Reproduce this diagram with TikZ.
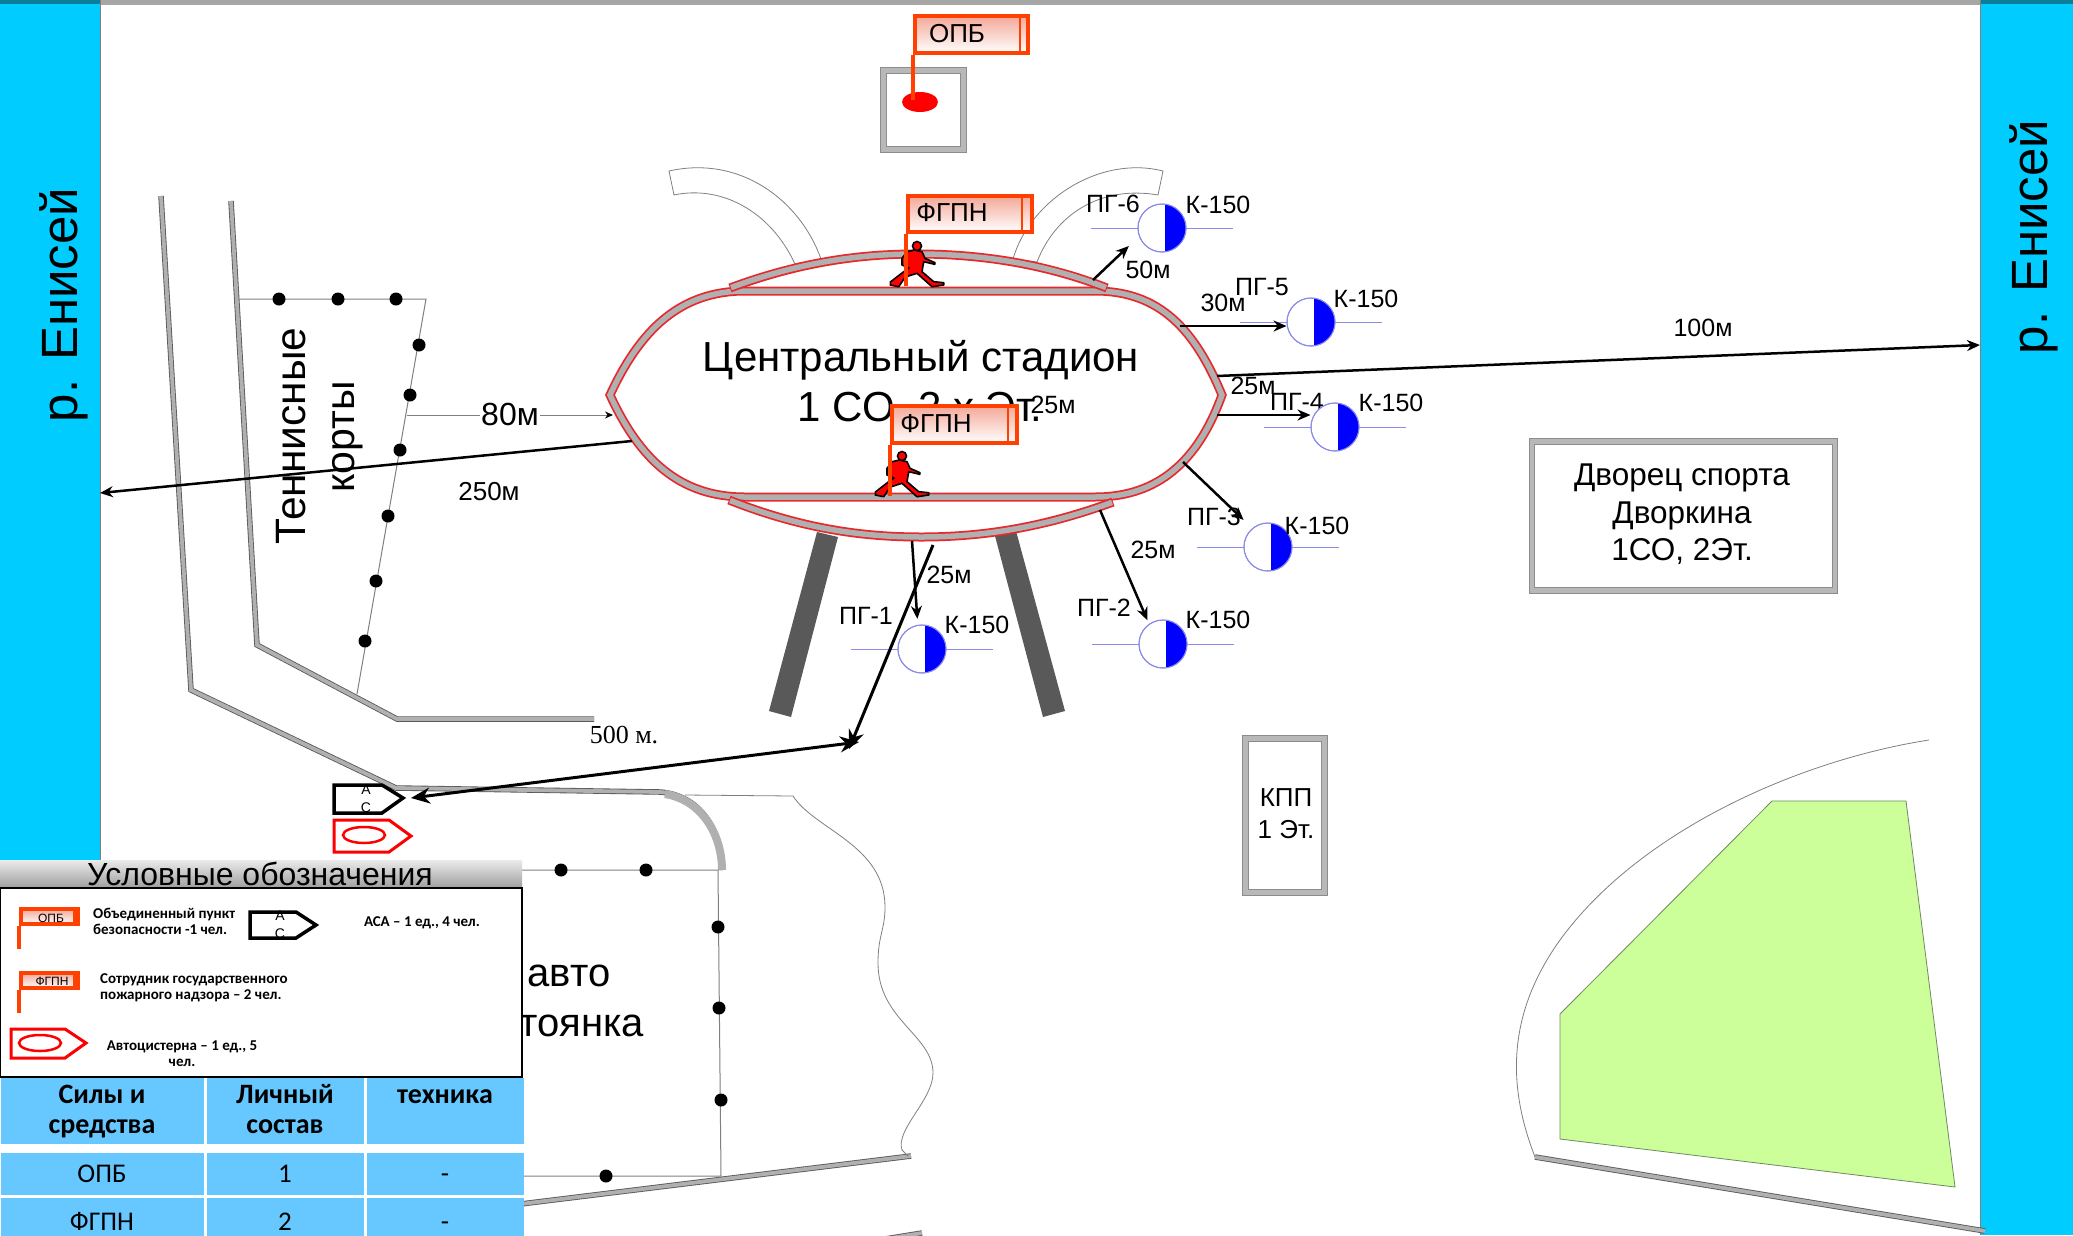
\documentclass[tikz,border=0pt]{standalone}
\usepackage{fontspec}
\setmainfont{Liberation Sans}
\newfontfamily\calfont{Carlito}
\newfontfamily\timesfont{Liberation Serif}
\usetikzlibrary{arrows.meta,shapes.geometric}
\newcommand{\fs}[1]{\fontsize{#1}{#1}\selectfont}
\definecolor{river}{HTML}{00CCFF}
\definecolor{tablecell}{HTML}{66C8FF}
\definecolor{flagred}{HTML}{FF4000}
\definecolor{flagpink}{HTML}{F4A898}
\definecolor{wallred}{HTML}{E8282C}
\definecolor{wallgray}{HTML}{B0B0B0}
\definecolor{framegray}{HTML}{A6A6A6}
\definecolor{frameedge}{HTML}{8C8C8C}
\definecolor{hydline}{HTML}{8C8CE8}
\definecolor{lawn}{HTML}{CCFF99}
\definecolor{lawnedge}{HTML}{6F8A60}
\definecolor{wallgrey}{HTML}{595959}
\definecolor{standgray}{HTML}{595959}
\definecolor{riverdark}{HTML}{0A7E98}
\tikzset{
  lbl/.style={inner sep=0pt,font=\fs{25}},
  arr/.style={black,line width=2.5pt,-{Stealth[length=13pt,width=11pt]}},
  bigarr/.style={black,line width=3pt,-{Stealth[length=19pt,width=16pt]}},
  thinline/.style={draw=gray,line width=1pt},
  dotmark/.style={circle,fill=black,inner sep=0pt,minimum size=13pt},
  frame/.style={draw=frameedge,line width=1pt,double=framegray!80,double distance=4.5pt,fill=white},
  flagbox/.style={draw=flagred,line width=4pt,top color=flagpink,bottom color=white,inner sep=0pt},
  flagpole/.style={draw=flagred,line width=4pt},
  flagdiv/.style={draw=flagred,line width=2.5pt},
  smallflag/.style={draw=flagred,line width=4pt,top color=flagpink,bottom color=white,inner sep=0pt},
  hydnode/.style={circle,draw=hydline,line width=1pt,fill=white,minimum size=48pt,inner sep=0pt},
  hydbar/.style={draw=hydline,line width=1pt},
  cell/.style={fill=tablecell,inner sep=0pt},
  tabhead/.style={inner sep=0pt,anchor=base,font=\calfont\bfseries\fs{28}},
  tabrow/.style={inner sep=0pt,anchor=base,font=\calfont\fs{27}},
  acpent/.style={draw=black,line width=3.5pt,fill=white},
  tankpent/.style={draw=red,line width=3pt,fill=white},
  tankell/.style={draw=red,line width=2.5pt},
  gate/.style={draw=gray,line width=0.8pt,fill=white},
  legendtxt/.style={inner sep=0pt,align=left,font=\calfont\bfseries\fontsize{15}{16}\selectfont},
  walker/.pic={
    \filldraw[fill=red,draw=black,line width=1.6pt,line join=round]
      (-2.3,4) -- (5,5.7) -- (8,12.3) -- (18,16.7) -- (17.7,18.3) -- (6.7,15.7) -- (5,25.7)
      -- (16.7,35.7) -- (26.7,36.7) -- (26.7,39) -- (15,40.7) -- (0,27.3) -- (-11.7,31)
      -- (-18.3,40.7) -- (-26.7,39) -- (-26.7,36) -- (-13.3,25.7) -- (-8,22) -- (-15,19)
      -- (-15,12.3) -- (-10,5.7) -- cycle;
    \filldraw[fill=red,draw=black,line width=1.6pt] (0,0) circle (4.5pt);
  }
}
\newcommand{\hydrant}[3]{%
  \draw[hydbar] (#2-71,#3) -- (#2+71,#3);
  \node[hydnode] (#1) at (#2,#3) {};
  \begin{scope}
    \clip (#2+3,#3-25) rectangle (#2+26,#3+25);
    \fill[blue] (#2,#3) circle (24pt);
  \end{scope}
  \draw[hydline,line width=1pt] (#2,#3) circle (24pt);
}
\newcommand{\roadline}[1]{%
  \draw[draw=wallgrey,line width=5.5pt,miter limit=3] #1;
  \draw[draw=wallgray,line width=3.8pt,miter limit=3] #1;
}
\begin{document}
\begin{tikzpicture}[x=1pt,y=-1pt]
\useasboundingbox (0,0) rectangle (2073,1235);
\clip (0,0) rectangle (2073,1235);
\fill[white] (0,0) rectangle (2073,1235);
% top bar and rivers
\fill[framegray] (0,0) rectangle (2073,5);
\fill[river] (0,0) rectangle (100,870);
\fill[river] (1980,0) rectangle (2073,1235);
\fill[riverdark] (0,0) rectangle (100,4);
\fill[riverdark] (1980,0) rectangle (2073,4);
\draw[gray,line width=0.6pt] (100,0) -- (100,870);
\draw[gray,line width=0.6pt] (1980,0) -- (1980,1235);
\node[rotate=90,anchor=base,inner sep=0pt,font=\fs{51}] (riverL) at (77,305) {р. Енисей};
\node[rotate=90,anchor=base,inner sep=0pt,font=\fs{51}] (riverR) at (2047,237) {р. Енисей};
% roads
\roadline{(161,196) -- (191,690) -- (396,788) -- (660,792) .. controls (700,795) and (722,830) .. (722,870)}
\draw[draw=wallgray,line width=8pt] (665,794) .. controls (702,800) and (722,835) .. (722,870);
\roadline{(231,201) -- (257,645) -- (397,719) -- (594,719)}
\roadline{(480,1209) -- (911,1156)}
\roadline{(1535,1157) -- (1985,1231)}
\roadline{(922,1233) -- (860,1243)}
% tennis court fence
\draw[thinline] (239,299) -- (426,299) -- (357,694);
\foreach \px/\py in {279/299,338/299,396/299,419/345,410/395,400/450,388/516,376/581,365/641}
  \node[dotmark] (td\px) at (\px,\py) {};
\node[rotate=90,anchor=base,inner sep=0pt,font=\fs{42.5}] (tennisA) at (305,436) {Теннисные};
\node[rotate=90,anchor=base,inner sep=0pt,font=\fs{41}] (tennisB) at (354,437) {корты};
% parking fence
\draw[thinline] (500,870) -- (718,870) -- (721,1176) -- (500,1176);
\foreach \px/\py in {561/870,646/870,718/927,719/1008,721/1100,606/1176}
  \node[dotmark] (pd\px) at (\px,\py) {};
\node[anchor=base,inner sep=0pt,font=\fs{40}] (parkA) at (569,986) {авто};
\node[anchor=base east,inner sep=0pt,font=\fs{40}] (parkB) at (644,1036) {стоянка};
% wavy boundary
\draw[thinline,line width=0.8pt] (685,795) -- (793,796) .. controls (815,830) and (885,845) .. (885,907) .. controls (885,930) and (878,935) .. (878,963) .. controls (878,1020) and (933,1035) .. (933,1073) .. controls (933,1100) and (895,1130) .. (902,1150) -- (908,1156);
% green area
\draw[thinline,line width=0.8pt] (1929,740) .. controls (1800,760) and (1640,830) .. (1560,940) .. controls (1510,1010) and (1505,1080) .. (1535,1157);
\filldraw[fill=lawn,draw=lawnedge,line width=0.8pt] (1772,801) -- (1906,801) -- (1955,1187) -- (1560,1139) -- (1560,1014) -- cycle;
% gates
\filldraw[gate] (669,171) .. controls (740,155) and (800,200) .. (821,259) -- (795,264) .. controls (770,210) and (720,185) .. (674,195) -- cycle;
\filldraw[gate] (1163,171) .. controls (1100,155) and (1030,200) .. (1013,259) -- (1037,262) .. controls (1055,215) and (1100,185) .. (1158,195) -- cycle;
% stands
\fill[standgray] (817,532) -- (838,537) -- (791,717) -- (769,711) -- cycle;
\fill[standgray] (995,536) -- (1016,531) -- (1065,711) -- (1043,717) -- cycle;
% stadium
\draw[draw=wallred,line width=9pt,fill=white,miter limit=4] (610,395) .. controls (640,330) and (680,291) .. (745,291) -- (1095,291) .. controls (1160,291) and (1195,330) .. (1222,395) .. controls (1195,470) and (1150,497) .. (1095,497) -- (745,497) .. controls (680,497) and (640,460) .. (610,395) -- cycle;
\draw[draw=wallgray,line width=5.5pt,miter limit=4] (610,395) .. controls (640,330) and (680,291) .. (745,291) -- (1095,291) .. controls (1160,291) and (1195,330) .. (1222,395) .. controls (1195,470) and (1150,497) .. (1095,497) -- (745,497) .. controls (680,497) and (640,460) .. (610,395) -- cycle;
\draw[draw=wallred,line width=9pt] (730,288) .. controls (800,262) and (860,254) .. (917,254) .. controls (975,254) and (1040,262) .. (1107,288);
\draw[draw=wallgray,line width=5.5pt] (731,287.6) .. controls (800,262) and (860,254) .. (917,254) .. controls (975,254) and (1040,262) .. (1106,287.6);
\draw[draw=wallred,line width=9pt] (729,500) .. controls (800,528) and (860,537) .. (921,537) .. controls (990,537) and (1050,525) .. (1113,502);
\draw[draw=wallgray,line width=5.5pt] (730,500.4) .. controls (800,528) and (860,537) .. (921,537) .. controls (990,537) and (1050,525) .. (1112,502.4);
\node[anchor=base,inner sep=0pt,font=\fs{42}] (stadA) at (921,371) {Центральный стадион};
\node[anchor=base,inner sep=0pt,font=\fs{42}] (stadB) at (920,421) {1 СО, 2 х Эт.};
% top building
\node[frame,minimum width=80pt,minimum height=79pt,inner sep=0pt] (post) at (923.5,110) {};
\fill[red] (920,102) ellipse (18pt and 10pt);
% buildings
\node[frame,minimum width=303pt,minimum height=149pt,inner sep=0pt] (palace) at (1683.5,516) {};
\node[anchor=base,inner sep=0pt,font=\fs{31.5}] (palA) at (1682,485) {Дворец спорта};
\node[anchor=base,inner sep=0pt,font=\fs{31.5}] (palB) at (1682,523) {Дворкина};
\node[anchor=base,inner sep=0pt,font=\fs{31.5}] (palC) at (1682,560) {1СО, 2Эт.};
\node[frame,minimum width=79pt,minimum height=154pt,inner sep=0pt] (kpp) at (1285,815.5) {};
\node[anchor=base,inner sep=0pt,font=\fs{26}] (kppA) at (1286,806) {КПП};
\node[anchor=base,inner sep=0pt,font=\fs{26}] (kppB) at (1286,838) {1 Эт.};
% hydrant labels beneath
\node[lbl] (l6) at (1113,204) {ПГ-6};
\node[lbl] (l5) at (1262,287) {ПГ-5};
\node[lbl] (l4) at (1297,402) {ПГ-4};
\node[lbl] (l3) at (1214,517) {ПГ-3};
\node[lbl] (l2) at (1104,608) {ПГ-2};
\node[lbl] (l1) at (866,616) {ПГ-1};
\hydrant{pg6}{1162}{228}
\hydrant{pg5}{1311}{322}
\hydrant{pg4}{1335}{427}
\hydrant{pg3}{1268}{547}
\hydrant{pg2}{1163}{644}
\hydrant{pg1}{922}{649}
\node[lbl] (k6) at (1218,205) {К-150};
\node[lbl] (k5) at (1366,299) {К-150};
\node[lbl] (k4) at (1391,403) {К-150};
\node[lbl] (k3) at (1317,526) {К-150};
\node[lbl] (k2) at (1218,620) {К-150};
\node[lbl] (k1) at (977,625) {К-150};
% distance labels
\node[lbl] (d50) at (1148,270) {50м};
\node[lbl] (d30) at (1223,303) {30м};
\node[lbl] (d25a) at (1253,386) {25м};
\node[lbl] (d25b) at (1053,405) {25м};
\node[lbl] (d25c) at (1153,550) {25м};
\node[lbl] (d25d) at (949,575) {25м};
\node[lbl] (d100) at (1703,328) {100м};
\node[lbl,font=\fs{26}] (d250) at (489,492) {250м};
\node[lbl,font=\timesfont\fs{26}] (d500) at (624,735) {500 м.};
% connectors
\coordinate (s6) at (1093,280);
\coordinate (s5) at (1180,326);
\coordinate (s4) at (1217,415);
\coordinate (s3) at (1183,462);
\coordinate (s2) at (1100,510);
\coordinate (s1) at (912,541);
\draw[arr,shorten >=14pt] (s6) -- (pg6.200);
\draw[arr] (s5) -- (s5 -| pg5.west);
\draw[arr] (s4) -- (s4 -| pg4.west);
\draw[arr,shorten >=12pt] (s3) -- (pg3.130);
\draw[arr,shorten >=4pt] (s2) -- (pg2.125);
\draw[arr,shorten >=6pt] (s1) -- (pg1.100);
\coordinate (riverRpt) at (1980,345);
\coordinate (riverLpt) at (100,493);
\coordinate (far1) at (1217,376);
\coordinate (far2) at (632,441);
\draw[arr] (far1) -- (riverRpt);
\draw[arr] (far2) -- (riverLpt);
% 80 m
\coordinate (cour) at (407,415);
\coordinate (stadL) at (613,415);
\draw[thinline,-{Stealth[length=8pt,width=7pt,color=black]}] (cour) -- (stadL);
\node[fill=white,inner sep=1pt,font=\fs{32}] (d80) at (510,414) {80м};
% 500 m
\coordinate (s500) at (933,545);
\coordinate (e500) at (849,749);
\coordinate (j500) at (859,742);
\coordinate (acTip) at (411,798);
\draw[bigarr] (s500) -- (e500);
\draw[black,line width=3pt,{Stealth[length=19pt,width=16pt]}-{Stealth[length=19pt,width=16pt]}] (acTip) -- (j500);
% AC and tanker
\draw[acpent] (334,785) -- (382,785) -- (403,798) -- (382,813) -- (334,813) -- cycle;
\node[inner sep=0pt,font=\fs{14}] (acA) at (366,790) {А};
\node[inner sep=0pt,font=\fs{14}] (acB) at (366,808) {С};
\draw[tankpent] (334,820) -- (389,820) -- (411,836) -- (389,852) -- (334,852) -- cycle;
\draw[tankell] (364,835) ellipse (21pt and 8pt);
% walkers and flags
\pic at (917,246) {walker};
\pic at (902,456) {walker};
% flag OPB
\node[flagbox,minimum width=113pt,minimum height=37pt] (fOPB) at (971.5,34.5) {};
\draw[flagdiv] (1020,16) -- (1020,53);
\node[lbl,font=\fs{26}] (tOPB) at (957,34) {ОПБ};
\coordinate (poleOPB) at (917,100);
\draw[flagpole] (fOPB.south west) -- (fOPB.south west |- poleOPB);
% flag FGPN top
\node[flagbox,minimum width=124pt,minimum height=36pt] (fF1) at (970,214) {};
\draw[flagdiv] (1022,196) -- (1022,232);
\node[lbl,font=\fs{26}] (tF1) at (952,213) {ФГПН};
\coordinate (poleF1) at (908,286);
\draw[flagpole] (fF1.south west) -- (fF1.south west |- poleF1);
% flag FGPN bottom
\node[flagbox,minimum width=125pt,minimum height=37pt] (fF2) at (954.5,424.5) {};
\draw[flagdiv] (1008,406) -- (1008,443);
\node[lbl,font=\fs{26}] (tF2) at (936,424) {ФГПН};
\coordinate (poleF2) at (892,496);
\draw[flagpole] (fF2.south west) -- (fF2.south west |- poleF2);
% legend
\shade[top color=black!8,bottom color=black!38] (0,860) rectangle (522,888);
\node[anchor=base,inner sep=0pt,font=\fs{32}] (legT) at (260,885) {Условные обозначения};
\node[draw=black,line width=2.5pt,fill=white,minimum width=522pt,minimum height=189pt,inner sep=0pt] (legBox) at (261,982.5) {};
% legend items
\node[smallflag,minimum width=57pt,minimum height=15pt] (lf1) at (49.5,916.5) {};
\fill[flagred] (73,907) rectangle (80,926);
\node[inner sep=0pt,font=\fs{12}] (lf1t) at (51,918) {ОПБ};
\coordinate (lf1e) at (21,949);
\draw[flagpole] (lf1.south west) -- (lf1.south west |- lf1e);
\node[legendtxt,anchor=west] (lt1) at (93,921) {Объединенный пункт\\безопасности -1 чел.};
\draw[acpent] (250,912) -- (296,912) -- (316,925) -- (296,938) -- (250,938) -- cycle;
\node[inner sep=0pt,font=\fs{14}] (la1) at (280,916) {А};
\node[inner sep=0pt,font=\fs{14}] (la2) at (280,934) {С};
\node[legendtxt] (lt2) at (422,923) {АСА – 1 ед., 4 чел.};
\node[smallflag,minimum width=57pt,minimum height=15pt] (lf2) at (49.5,980.5) {};
\fill[flagred] (73,971) rectangle (80,990);
\node[inner sep=0pt,font=\fs{12}] (lf2t) at (52,981) {ФГПН};
\coordinate (lf2e) at (21,1013);
\draw[flagpole] (lf2.south west) -- (lf2.south west |- lf2e);
\node[legendtxt,anchor=west] (lt3) at (100,988) {Сотрудник государственного\\пожарного надзора – 2 чел.};
\draw[tankpent] (11,1029) -- (65,1029) -- (86,1043) -- (65,1058) -- (11,1058) -- cycle;
\draw[tankell] (40,1043) ellipse (21pt and 8pt);
\node[legendtxt,align=center] (lt4) at (182,1054) {Автоцистерна – 1 ед., 5\\чел.};
% table
\node[cell,minimum width=203pt,minimum height=66pt] (h1) at (102.5,1111) {};
\node[cell,minimum width=157pt,minimum height=66pt] (h2) at (285.5,1111) {};
\node[cell,minimum width=157pt,minimum height=66pt] (h3) at (445.5,1111) {};
\node[tabhead] (h1a) at (102,1103) {Силы и};
\node[tabhead] (h1b) at (102,1133) {средства};
\node[tabhead] (h2a) at (285,1103) {Личный};
\node[tabhead] (h2b) at (285,1133) {состав};
\node[tabhead] (h3a) at (445,1103) {техника};
\node[cell,minimum width=203pt,minimum height=42pt] (r11) at (102.5,1174) {};
\node[cell,minimum width=157pt,minimum height=42pt] (r12) at (285.5,1174) {};
\node[cell,minimum width=157pt,minimum height=42pt] (r13) at (445.5,1174) {};
\node[tabrow] (r11t) at (102,1182) {ОПБ};
\node[tabrow] (r12t) at (285,1182) {1};
\node[tabrow] (r13t) at (445,1182) {-};
\node[cell,minimum width=203pt,minimum height=47pt] (r21) at (102.5,1221.5) {};
\node[cell,minimum width=157pt,minimum height=47pt] (r22) at (285.5,1221.5) {};
\node[cell,minimum width=157pt,minimum height=47pt] (r23) at (445.5,1221.5) {};
\node[tabrow] (r21t) at (102,1230) {ФГПН};
\node[tabrow] (r22t) at (285,1230) {2};
\node[tabrow] (r23t) at (445,1230) {-};
\end{tikzpicture}
\end{document}
